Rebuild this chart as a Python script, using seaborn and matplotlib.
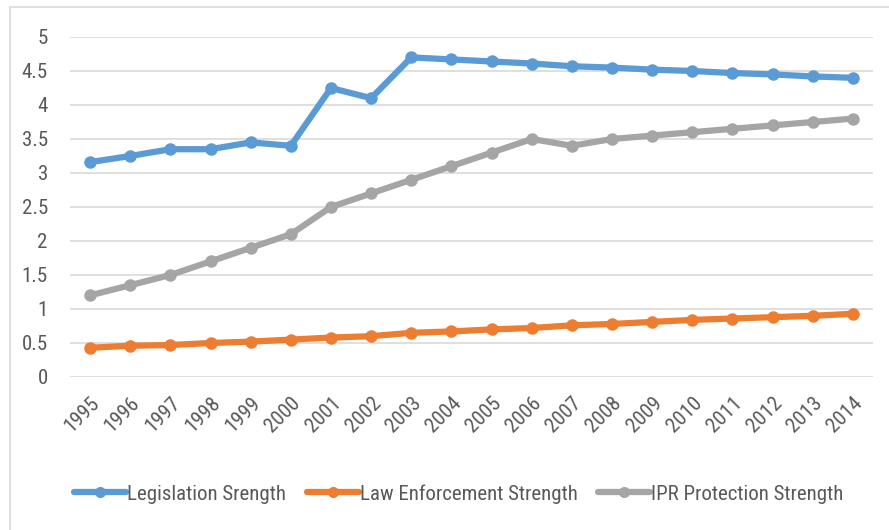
import matplotlib
matplotlib.use("Agg")
import matplotlib.pyplot as plt
import seaborn as sns
import pandas as pd
from matplotlib.patches import Rectangle
from matplotlib.lines import Line2D
from matplotlib import font_manager

years = list(range(1995, 2015))
legislation = [3.16, 3.25, 3.35, 3.35, 3.45, 3.40, 4.25, 4.10, 4.70, 4.67,
               4.64, 4.61, 4.57, 4.55, 4.52, 4.50, 4.47, 4.45, 4.42, 4.40]
enforcement = [0.43, 0.46, 0.47, 0.50, 0.52, 0.55, 0.58, 0.60, 0.65, 0.67,
               0.70, 0.72, 0.76, 0.78, 0.81, 0.84, 0.86, 0.88, 0.90, 0.93]
ipr = [1.20, 1.35, 1.50, 1.70, 1.90, 2.10, 2.50, 2.70, 2.90, 3.10,
       3.30, 3.50, 3.40, 3.50, 3.55, 3.60, 3.65, 3.70, 3.75, 3.80]
series_names = ["Legislation Srength", "Law Enforcement Strength", "IPR Protection Strength"]
colors = ["#5B9BD5", "#ED7D31", "#A5A5A5"]
yticks = [0, 0.5, 1, 1.5, 2, 2.5, 3, 3.5, 4, 4.5, 5]
ytick_labels = ["0", "0.5", "1", "1.5", "2", "2.5", "3", "3.5", "4", "4.5", "5"]

df = pd.DataFrame({
    "Year": years * 3,
    "Value": legislation + enforcement + ipr,
    "Series": [series_names[0]] * 20 + [series_names[1]] * 20 + [series_names[2]] * 20,
})

sns.set_theme(style="white")
names = {f.name for f in font_manager.fontManager.ttflist}
cond = None
for cand in ["Liberation Sans Narrow", "DejaVu Sans Condensed", "Roboto Condensed",
             "Open Sans Condensed", "Noto Sans Condensed"]:
    if cand in names:
        cond = cand
        break
plt.rcParams["font.family"] = ([cond] if cond else []) + ["DejaVu Sans"]
plt.rcParams["font.stretch"] = "condensed"

W, H = 889, 530
fig = plt.figure(figsize=(W / 100, H / 100), dpi=100)
ax = fig.add_axes([70 / W, 1 - 377 / H, (873 - 70) / W, (377 - 37) / H])

fig.patches.append(Rectangle((10 / W, -0.1), 1.2, 1 - 7 / H + 0.1,
                             transform=fig.transFigure, fill=False,
                             edgecolor="#d9d9d9", linewidth=1.2, zorder=0))

sns.lineplot(data=df, x="Year", y="Value", hue="Series", palette=colors,
             hue_order=series_names, marker="o", markersize=9, linewidth=4.5,
             markeredgewidth=0, ax=ax, legend=False, zorder=3)

ax.set_xlim(1994.5, 2014.5)
ax.set_ylim(0, 5)
ax.set_yticks(yticks)
ax.set_yticklabels(ytick_labels)
ax.set_xticks(years)
ax.set_xticklabels([str(y) for y in years], rotation=45, ha="right",
                   rotation_mode="anchor")
ax.tick_params(axis="both", length=0, labelsize=15, colors="#595959")
ax.tick_params(axis="y", pad=16)
ax.tick_params(axis="x", pad=12)
ax.yaxis.grid(True, color="#d9d9d9", linewidth=1.2)
ax.xaxis.grid(False)
for s in ax.spines.values():
    s.set_visible(False)
ax.set_xlabel("")
ax.set_ylabel("")

handles = [Line2D([0], [0], color=c, linewidth=4.5, marker="o", markersize=8,
                  markeredgewidth=0) for c in colors]
fig.legend(handles, series_names, loc="center", bbox_to_anchor=(0.516, 1 - 494 / H),
           ncol=3, frameon=False, fontsize=15, handlelength=2.5,
           handletextpad=0.05, columnspacing=1.0, labelcolor="#595959")

fig.savefig("out.png", dpi=100)
